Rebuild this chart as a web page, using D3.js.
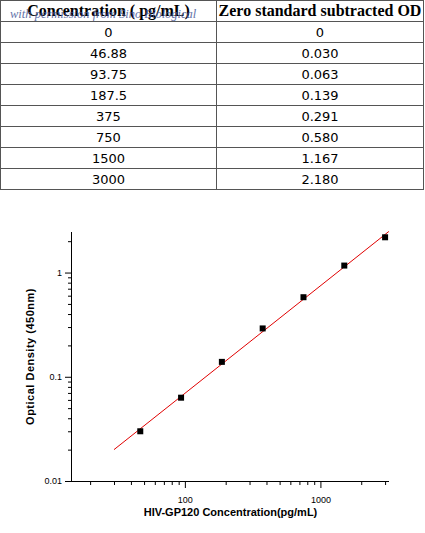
<!DOCTYPE html>
<html><head><meta charset="utf-8">
<script src="https://cdn.jsdelivr.net/npm/d3@7"></script>
<style>
body { margin:0; background:#fff; }
</style></head>
<body>
<svg id="chart" width="425" height="533"></svg>
<script>
var headers = [ "Concentration ( pg/mL)", "Zero standard subtracted OD" ];
var concLabels = [ "0", "46.88", "93.75", "187.5", "375", "750", "1500", "3000" ];
var odLabels = [ "0", "0.030", "0.063", "0.139", "0.291", "0.580", "1.167", "2.180" ];
var conc = [ 46.88, 93.75, 187.5, 375, 750, 1500, 3000 ];
var od = [ 0.030, 0.063, 0.139, 0.291, 0.580, 1.167, 2.180 ];
var fitX = [ 30, 3200 ];
var fitY = [ 0.020, 2.48 ];
var yTicks = [ 0.01, 0.1, 1 ];
var xTicks = [ 100, 1000 ];

var svg = d3.select( "#chart" );

// table
var rowH = 21, colX = [ 0.5, 216.5, 423.5 ];
var rows = [ headers ].concat( concLabels.map( function(d, i) { return [ d, odLabels[i] ] } ) );
var table = svg.append( "g" );
rows.forEach( function(r, i) {
	r.forEach( function(t, j) {
		table.append( "rect" )
			.attr( "x", colX[j] ).attr( "y", 0.5 + i * rowH )
			.attr( "width", colX[j+1] - colX[j] ).attr( "height", rowH )
			.attr( "fill", "none" ).attr( "stroke", "#555" );
		table.append( "text" )
			.attr( "x", (colX[j] + colX[j+1]) / 2 ).attr( "y", i * rowH + 16 )
			.attr( "text-anchor", "middle" )
			.style( "font-family", i === 0 ? "Liberation Serif" : "DejaVu Sans" )
			.style( "font-weight", i === 0 ? "bold" : "normal" )
			.style( "font-size", i === 0 ? "16px" : "13px" )
			.text( t );
	});
});
table.append( "text" )
	.attr( "x", 10 ).attr( "y", 18 )
	.style( "font-family", "Liberation Serif" ).style( "font-style", "italic" )
	.style( "font-size", "12.5px" ).attr( "fill", "#4a5a9a" ).attr( "opacity", 0.85 )
	.text( "with permission from Sino Biological" );

// chart
var plotL = 72, plotR = 389, plotT = 232, plotB = 481;
var x = d3.scaleLog().domain( [ 14.7, 3206 ] ).range( [ plotL, plotR ] );
var y = d3.scaleLog().domain( [ 0.01, 2.45 ] ).range( [ plotB, plotT ] );
var g = svg.append( "g" ).style( "font-family", "Liberation Sans" );

var xMinor = [];
[ 10, 100, 1000 ].forEach( function(b) {
	for ( var k = 2; k <= 9; k++ ) { if ( b * k >= 14.7 && b * k <= 3206 ) xMinor.push( b * k ) }
});
var yMinor = [];
[ 0.01, 0.1, 1 ].forEach( function(b) {
	for ( var k = 2; k <= 9; k++ ) { if ( b * k <= 2.45 ) yMinor.push( b * k ) }
});

g.append( "g" ).attr( "transform", "translate(0," + plotB + ")" )
	.call( d3.axisBottom( x ).tickValues( xMinor ).tickSize( 4 ).tickFormat( "" ) )
	.call( function(a) { a.select( ".domain" ).remove() } );
g.append( "g" ).attr( "transform", "translate(0," + plotB + ")" )
	.call( d3.axisBottom( x ).tickValues( xTicks ).tickSize( 7 ).tickFormat( d3.format( "d" ) ) )
	.call( function(a) { a.select( ".domain" ).attr( "d", "M" + plotL + ",0.5H" + plotR ) } )
	.selectAll( "text" ).style( "font-size", "9px" ).attr( "dy", "1.3em" );
g.append( "g" ).attr( "transform", "translate(" + plotL + ",0)" )
	.call( d3.axisLeft( y ).tickValues( yMinor ).tickSize( 4 ).tickFormat( "" ) )
	.call( function(a) { a.select( ".domain" ).remove() } );
g.append( "g" ).attr( "transform", "translate(" + plotL + ",0)" )
	.call( d3.axisLeft( y ).tickValues( yTicks ).tickSize( 7 ).tickFormat( function(d) { return d3.format( "~g" )(d) } ) )
	.call( function(a) { a.select( ".domain" ).attr( "d", "M-0.5," + plotT + "V" + plotB ) } )
	.selectAll( "text" ).style( "font-size", "9px" );
g.selectAll( ".tick line" ).attr( "stroke", "#000" );

g.append( "line" )
	.attr( "x1", x( fitX[0] ) ).attr( "y1", y( fitY[0] ) )
	.attr( "x2", x( fitX[1] ) ).attr( "y2", y( fitY[1] ) )
	.attr( "stroke", "#e00000" ).attr( "stroke-width", 1 );

g.selectAll( ".pt" ).data( conc ).enter().append( "rect" )
	.attr( "x", function(d) { return x(d) - 3 } )
	.attr( "y", function(d, i) { return y( od[i] ) - 3 } )
	.attr( "width", 6 ).attr( "height", 6 ).attr( "fill", "#000" );

g.append( "text" )
	.attr( "x", (plotL + plotR) / 2 ).attr( "y", 516 ).attr( "text-anchor", "middle" )
	.style( "font-size", "11px" ).style( "font-weight", "bold" )
	.text( "HIV-GP120  Concentration(pg/mL)" );
g.append( "text" )
	.attr( "transform", "translate(34," + (plotT + plotB) / 2 + ") rotate(-90)" )
	.attr( "text-anchor", "middle" )
	.style( "font-size", "11px" ).style( "font-weight", "bold" ).style( "letter-spacing", "0.5px" )
	.text( "Optical Density (450nm)" );
</script>
</body></html>
